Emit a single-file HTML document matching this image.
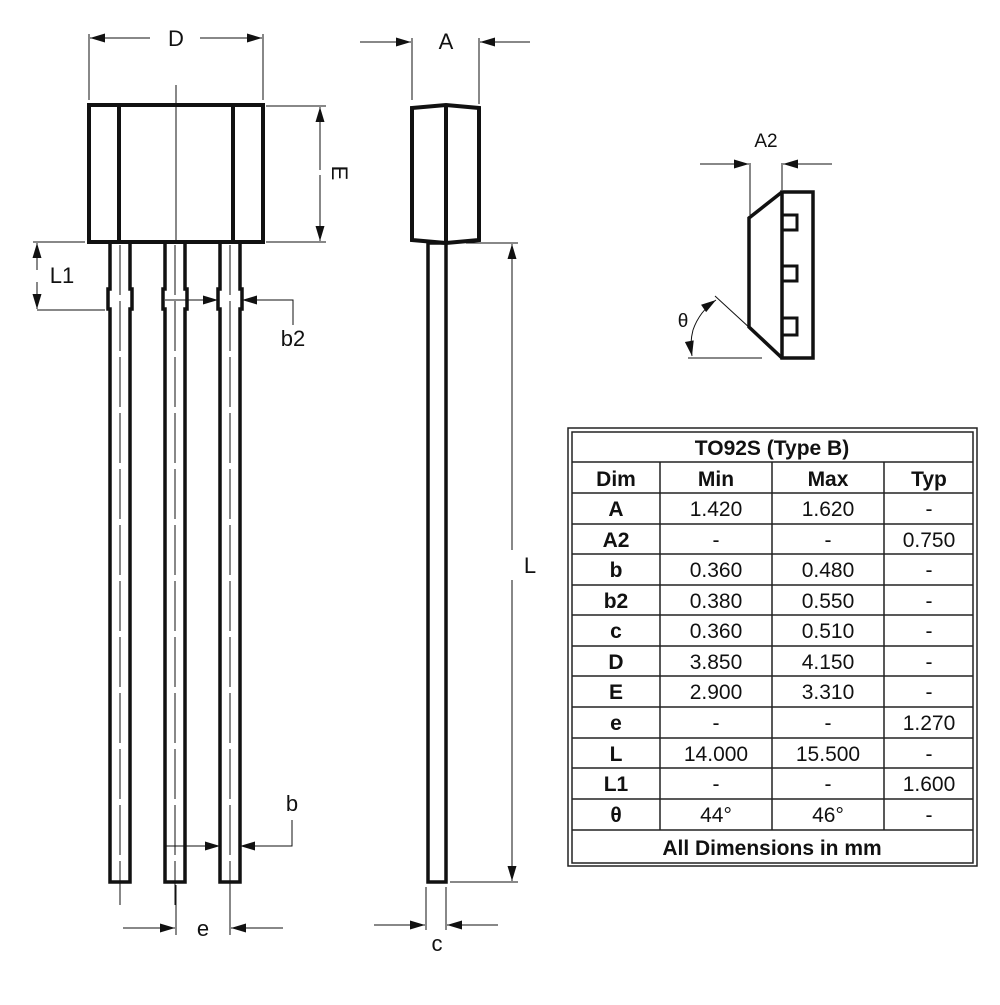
<!DOCTYPE html>
<html><head><style>
body{margin:0;background:#fff}
svg text{font-family:"Liberation Sans",Arial,sans-serif;fill:#111}
</style></head><body>
<svg width="1000" height="1000" viewBox="0 0 1000 1000" xmlns="http://www.w3.org/2000/svg">
<defs>
<marker id="ar" viewBox="0 0 10 6" refX="10" refY="3" markerWidth="22" markerHeight="9" markerUnits="userSpaceOnUse" orient="auto"><path d="M0,0 L10,3 L0,6 Z" fill="#111"/></marker>
</defs>
<g fill="none" stroke="#111">
<rect x="89" y="105" width="174" height="137" stroke-width="4"/>
<line x1="119" y1="105" x2="119" y2="242" stroke-width="4"/>
<line x1="233" y1="105" x2="233" y2="242" stroke-width="4"/>
<line x1="176" y1="85" x2="176" y2="242" stroke-width="1"/>
<g stroke-width="3.5">
<path d="M110,242 V289 H108 V309 H110 V882 H130 V309 H132 V289 H130 V242"/>
<path d="M165,242 V289 H163 V309 H165 V882 H185 V309 H187 V289 H185 V242"/>
<path d="M220,242 V289 H218 V309 H220 V882 H240 V309 H242 V289 H240 V242"/>
</g>
<g stroke-width="1" stroke-dasharray="50,6">
<line x1="120" y1="245" x2="120" y2="905"/>
<line x1="175" y1="245" x2="175" y2="905"/>
<line x1="230" y1="245" x2="230" y2="905"/>
</g>
<g stroke-width="1">
<line x1="89" y1="34" x2="89" y2="100"/><line x1="263" y1="34" x2="263" y2="100"/>
<line x1="150" y1="38" x2="90" y2="38" marker-end="url(#ar)"/>
<line x1="200" y1="38" x2="262" y2="38" marker-end="url(#ar)"/>
<line x1="266" y1="106" x2="326" y2="106"/><line x1="266" y1="242" x2="326" y2="242"/>
<line x1="320" y1="170" x2="320" y2="107" marker-end="url(#ar)"/>
<line x1="320" y1="175" x2="320" y2="241" marker-end="url(#ar)"/>
<line x1="33" y1="242" x2="85" y2="242"/><line x1="37" y1="310" x2="105" y2="310"/>
<line x1="37" y1="270" x2="37" y2="243" marker-end="url(#ar)"/>
<line x1="37" y1="282" x2="37" y2="309" marker-end="url(#ar)"/>
<line x1="165" y1="300" x2="218" y2="300" marker-end="url(#ar)"/>
<polyline points="293,325 293,300 242,300" marker-end="url(#ar)"/>
<line x1="166" y1="846" x2="220" y2="846" marker-end="url(#ar)"/>
<polyline points="292,820 292,846 240,846" marker-end="url(#ar)"/>
<line x1="176" y1="885" x2="176" y2="935"/><line x1="230" y1="885" x2="230" y2="935"/>
<line x1="123" y1="928" x2="175" y2="928" marker-end="url(#ar)"/>
<line x1="283" y1="928" x2="231" y2="928" marker-end="url(#ar)"/>
</g>
<path d="M412,108 L446,105 L479,108 V240 L446,243 L412,240 Z" stroke-width="4"/>
<line x1="446" y1="105" x2="446" y2="243" stroke-width="4"/>
<rect x="428" y="243" width="18" height="639" stroke-width="3.5"/>
<g stroke-width="1">
<line x1="412" y1="38" x2="412" y2="100"/><line x1="479" y1="38" x2="479" y2="104"/>
<line x1="360" y1="42" x2="411" y2="42" marker-end="url(#ar)"/>
<line x1="530" y1="42" x2="480" y2="42" marker-end="url(#ar)"/>
<line x1="466" y1="243" x2="518" y2="243"/><line x1="450" y1="882" x2="518" y2="882"/>
<line x1="512" y1="550" x2="512" y2="244" marker-end="url(#ar)"/>
<line x1="512" y1="580" x2="512" y2="881" marker-end="url(#ar)"/>
<line x1="426" y1="887" x2="426" y2="930"/><line x1="446" y1="887" x2="446" y2="930"/>
<line x1="374" y1="925" x2="425" y2="925" marker-end="url(#ar)"/>
<line x1="498" y1="925" x2="447" y2="925" marker-end="url(#ar)"/>
</g>
<rect x="782" y="192" width="31" height="166" stroke-width="3.5"/>
<path d="M782,192 L749,218 V327 L782,358" stroke-width="3.5"/>
<rect x="782" y="215" width="15" height="15" stroke-width="3"/>
<rect x="782" y="266" width="15" height="15" stroke-width="3"/>
<rect x="782" y="318" width="15" height="17" stroke-width="3"/>
<g stroke-width="1">
<line x1="750" y1="163" x2="750" y2="215"/><line x1="782" y1="163" x2="782" y2="190"/>
<line x1="700" y1="164" x2="749" y2="164" marker-end="url(#ar)"/>
<line x1="832" y1="164" x2="783" y2="164" marker-end="url(#ar)"/>
<line x1="715" y1="296" x2="752" y2="330"/>
<line x1="688" y1="358" x2="762" y2="358"/>
<path d="M693,330 A60 60 0 0 1 716,300" marker-end="url(#ar)"/>
<path d="M693,330 A60 60 0 0 0 692,356" marker-end="url(#ar)"/>
</g>
</g>
<g font-size="22">
<text x="176" y="46" text-anchor="middle">D</text>
<text x="340" y="173" text-anchor="middle" transform="rotate(90 340 173)" dy="8">E</text>
<text x="62" y="283" text-anchor="middle">L1</text>
<text x="293" y="346" text-anchor="middle">b2</text>
<text x="292" y="811" text-anchor="middle">b</text>
<text x="203" y="936" text-anchor="middle">e</text>
<text x="446" y="49" text-anchor="middle">A</text>
<text x="530" y="573" text-anchor="middle">L</text>
<text x="437" y="951" text-anchor="middle">c</text>
<text x="766" y="147" text-anchor="middle" font-size="19">A2</text>
<text x="683" y="327" text-anchor="middle" font-size="19">θ</text>
</g>
<g fill="none" stroke="#222">
<rect x="568" y="428" width="409" height="438" stroke-width="1.5"/>
<rect x="572" y="432" width="401" height="431" stroke-width="1.5"/>
<g stroke-width="1.5">
<line x1="572" y1="462" x2="973" y2="462"/><line x1="572" y1="493" x2="973" y2="493"/>
<line x1="572" y1="524" x2="973" y2="524"/><line x1="572" y1="554" x2="973" y2="554"/>
<line x1="572" y1="585" x2="973" y2="585"/><line x1="572" y1="615" x2="973" y2="615"/>
<line x1="572" y1="646" x2="973" y2="646"/><line x1="572" y1="676" x2="973" y2="676"/>
<line x1="572" y1="707" x2="973" y2="707"/><line x1="572" y1="738" x2="973" y2="738"/>
<line x1="572" y1="768" x2="973" y2="768"/><line x1="572" y1="799" x2="973" y2="799"/>
<line x1="572" y1="830" x2="973" y2="830"/>
<line x1="660" y1="462" x2="660" y2="830"/><line x1="772" y1="462" x2="772" y2="830"/><line x1="884" y1="462" x2="884" y2="830"/>
</g>
</g>
<g font-size="21" text-anchor="middle">
<text x="772" y="455" font-weight="bold">TO92S (Type B)</text>
<g font-weight="bold"><text x="616" y="486">Dim</text><text x="716" y="486">Min</text><text x="828" y="486">Max</text><text x="929" y="486">Typ</text></g>
<g font-weight="bold">
<text x="616" y="516">A</text><text x="616" y="547">A2</text><text x="616" y="577">b</text><text x="616" y="608">b2</text>
<text x="616" y="638">c</text><text x="616" y="669">D</text><text x="616" y="699">E</text><text x="616" y="730">e</text>
<text x="616" y="761">L</text><text x="616" y="791">L1</text><text x="616" y="822">θ</text>
</g>
<text x="716" y="516">1.420</text><text x="828" y="516">1.620</text><text x="929" y="516">-</text>
<text x="716" y="547">-</text><text x="828" y="547">-</text><text x="929" y="547">0.750</text>
<text x="716" y="577">0.360</text><text x="828" y="577">0.480</text><text x="929" y="577">-</text>
<text x="716" y="608">0.380</text><text x="828" y="608">0.550</text><text x="929" y="608">-</text>
<text x="716" y="638">0.360</text><text x="828" y="638">0.510</text><text x="929" y="638">-</text>
<text x="716" y="669">3.850</text><text x="828" y="669">4.150</text><text x="929" y="669">-</text>
<text x="716" y="699">2.900</text><text x="828" y="699">3.310</text><text x="929" y="699">-</text>
<text x="716" y="730">-</text><text x="828" y="730">-</text><text x="929" y="730">1.270</text>
<text x="716" y="761">14.000</text><text x="828" y="761">15.500</text><text x="929" y="761">-</text>
<text x="716" y="791">-</text><text x="828" y="791">-</text><text x="929" y="791">1.600</text>
<text x="716" y="822">44°</text><text x="828" y="822">46°</text><text x="929" y="822">-</text>
<text x="772" y="855" font-weight="bold">All Dimensions in mm</text>
</g>
</svg>
</body></html>
